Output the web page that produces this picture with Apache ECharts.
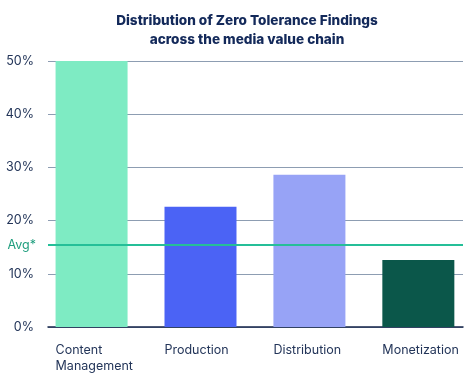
<!DOCTYPE html>
<html>
<head>
<meta charset="utf-8">
<script src="https://cdn.jsdelivr.net/npm/echarts@6/dist/echarts.min.js"></script>
<style>
  html, body { margin: 0; padding: 0; background: #fff; }
  #chart { width: 468px; height: 377px; }
</style>
</head>
<body>
<div id="chart"></div>
<script>
// 数据
const categories = ['Content\nManagement', 'Production', 'Distribution', 'Monetization'];
const values = [50, 22.6, 28.6, 12.6];
const barColors = ['#7eebc3', '#4b63f5', '#97a3f6', '#0b574a'];
const avgValue = 15.4;
const avgLabel = 'Avg*';

const myChart = echarts.init(document.getElementById('chart'));

const option = {
  animation: false,
  textStyle: { fontFamily: 'Inter, "Noto Sans", sans-serif' },
  title: {
    text: 'Distribution of Zero Tolerance Findings\nacross the media value chain',
    left: 242,
    textAlign: 'center',
    top: 6,
    textStyle: {
      color: '#13295a',
      fontSize: 13.6,
      fontWeight: 800,
      lineHeight: 19,
    },
  },
  grid: { left: 48, right: 5, top: 61, bottom: 50 },
  xAxis: {
    // 用数值轴放置类目，左侧留白比右侧多
    type: 'value',
    min: -0.4,
    max: 3.41,
    splitLine: { show: false },
    axisLine: { onZero: false, lineStyle: { color: '#14254a', width: 1.5 } },
    axisTick: { show: false },
    axisLabel: {
      customValues: [0, 1, 2, 3],
      formatter: (v) => categories[Math.round(v)] || '',
      align: 'left',
      padding: [0, 0, 0, -36],
      margin: 15,
      color: '#233559',
      fontSize: 12.5,
      lineHeight: 16,
    },
  },
  yAxis: {
    type: 'value',
    min: 0,
    max: 50,
    interval: 10,
    axisLine: { show: false },
    axisTick: { show: false },
    axisLabel: {
      formatter: '{value}%',
      color: '#233559',
      fontSize: 12.5,
      margin: 14,
    },
    splitLine: { lineStyle: { color: '#8d9db2', width: 1 } },
  },
  series: [
    {
      type: 'bar',
      barWidth: 72,
      data: values.map((v, i) => ({ value: [i, v], itemStyle: { color: barColors[i] } })),
      z: 2,
      markLine: {
        silent: true,
        symbol: 'none',
        lineStyle: { color: '#25bf98', width: 2, type: 'solid' },
        label: {
          position: 'start',
          formatter: avgLabel,
          color: '#1f9e7e',
          fontSize: 12.5,
          distance: 12,
        },
        data: [{ yAxis: avgValue }],
        z: 5,
      },
    },
  ],
};

myChart.setOption(option);
</script>
</body>
</html>
